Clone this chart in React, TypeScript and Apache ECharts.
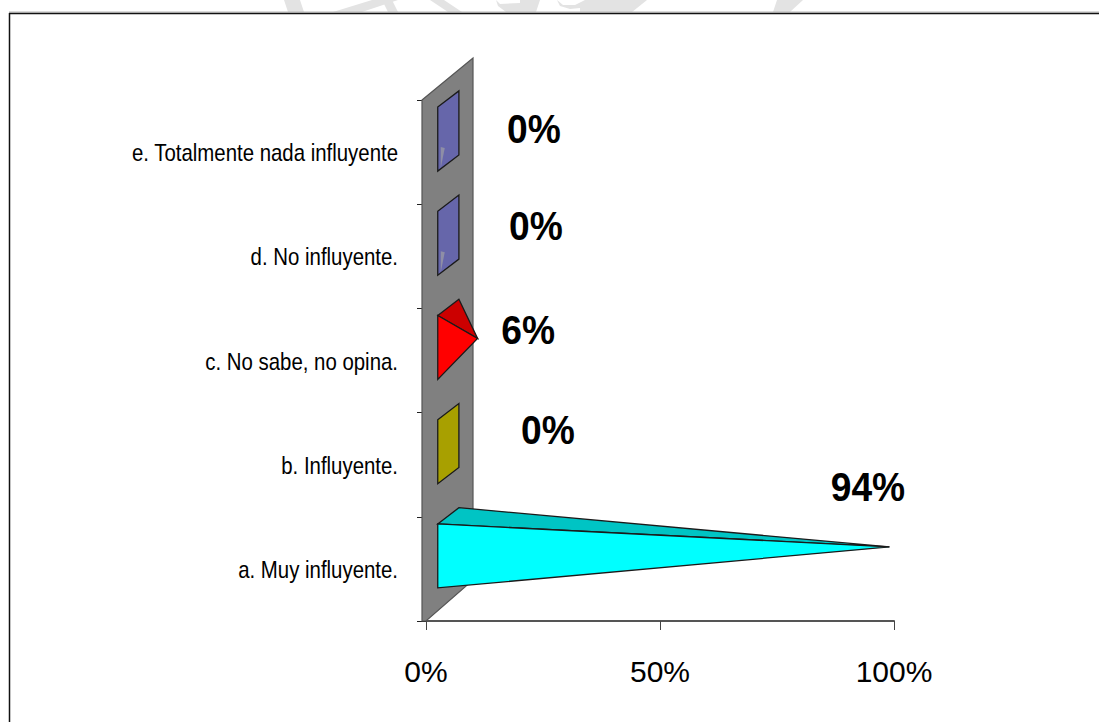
import React, { useEffect, useRef } from "react";
import * as echarts from "echarts";

const categories = [
  "a. Muy influyente.",
  "b. Influyente.",
  "c. No sabe, no opina.",
  "d. No influyente.",
  "e. Totalmente nada influyente",
];
const percentages = [94, 0, 6, 0, 0];
const frontColors = ["#00ffff", "#a8a000", "#ff0000", "#6666aa", "#6666aa"];
const topColors = ["#00c4c4", "#a8a000", "#cc0000", "#6666aa", "#6666aa"];
const apexColors = [null, null, null, "#8e8ea6", "#8e8ea6"];
const valueTicks = [0, 50, 100];

// Where each percentage text sits, relative to the value's point on the axes.
const labelShiftX = [2, 122, 74, 110, 108];
const labelShiftY = [-82, -35, -30, -30, -23];

// Oblique projection of the depth axis, in pixels per unit of depth.
const depthX = 47;
const depthY = -36;
const depthBaseY = -4;
const pyramidHalfHeight = 32;

// Condensed lettering: no narrow face is installed, so the text is squeezed.
const categoryScaleX = 0.85;
const categoryRightEdge = 398;
const valueLabelScaleX = 0.93;

const project = (pt: number[], d: number) => [
  pt[0] + depthX * d,
  pt[1] + depthBaseY + depthY * d,
];

const edge = { stroke: "#1a1a1a", lineWidth: 1.3 };

function renderWall(params: any) {
  const c = params.coordSys;
  const bottom = c.y + c.height;
  return {
    type: "polygon",
    shape: {
      points: [
        [c.x - 4, c.y],
        [c.x + depthX, c.y - 42],
        [c.x + depthX, bottom - 41],
        [c.x, bottom],
        [c.x - 4, bottom],
      ],
    },
    style: { fill: "#808080", stroke: "#555555", lineWidth: 1.2 },
  };
}

function renderPyramid(params: any, api: any) {
  const i = params.dataIndex;
  const value = api.value(0);
  const origin = api.coord([0, i]);
  const end = api.coord([value, i]);
  const frontTop = project([origin[0], origin[1] - pyramidHalfHeight], 0.25);
  const frontBottom = project([origin[0], origin[1] + pyramidHalfHeight], 0.25);
  const backTop = project([origin[0], origin[1] - pyramidHalfHeight], 0.7);
  const backBottom = project([origin[0], origin[1] + pyramidHalfHeight], 0.7);
  const tip = project(end, 0.5);
  const faces: any[] =
    value === 0
      ? [
          {
            type: "polygon",
            shape: { points: [frontTop, backTop, backBottom, frontBottom] },
            style: { fill: frontColors[i], ...edge },
          },
        ]
      : [
          {
            type: "polygon",
            shape: { points: [frontTop, backTop, tip] },
            style: { fill: topColors[i], ...edge },
          },
          {
            type: "polygon",
            shape: { points: [frontTop, tip, frontBottom] },
            style: { fill: frontColors[i], ...edge },
          },
        ];
  const apex = apexColors[i];
  if (apex) {
    const ax = frontTop[0];
    const ay = (frontTop[1] + frontBottom[1]) / 2;
    faces.push({
      type: "polygon",
      shape: { points: [[ax + 3, ay + 8], [ax + 7, ay + 9], [ax + 3, ay + 29]] },
      style: { fill: apex },
    });
  }
  return {
    type: "group",
    children: [
      ...faces,
      {
        type: "text",
        x: end[0] + labelShiftX[i],
        y: end[1] + labelShiftY[i],
        scaleX: valueLabelScaleX,
        style: {
          text: `${value}%`,
          fontFamily: "Liberation Sans",
          fontWeight: "bold",
          fontSize: 40,
          fill: "#000000",
          align: "center",
          verticalAlign: "middle",
        },
      },
      {
        type: "text",
        x: categoryRightEdge,
        y: origin[1] + 1,
        scaleX: categoryScaleX,
        style: {
          text: categories[i],
          fontFamily: "Liberation Sans",
          fontSize: 24,
          fill: "#000000",
          align: "right",
          verticalAlign: "middle",
        },
      },
    ],
  };
}

// Faint shapes running off the top of the page, above the frame.
const topShapes: number[][][] = [
  [[284, 0], [300, 0], [304, 12], [288, 12]],
  [[372, 0], [398, 0], [362, 12], [333, 12]],
  [[382, 0], [392, 0], [398, 12], [388, 12]],
  [[430, 0], [444, 0], [462, 12], [448, 12]],
  [[496, 0], [500, 4], [520, 3], [520, 12], [506, 12], [498, 6]],
  [[520, 0], [540, 0], [536, 12], [520, 12]],
  [[557, 0], [563, 5], [575, 5], [585, 0], [647, 0], [632, 12], [580, 12], [580, 8], [570, 9], [560, 6]],
  [[777, 0], [803, 0], [790, 12], [773, 12]],
];

export default function App() {
  const ref = useRef<HTMLDivElement>(null);
  useEffect(() => {
    document.body.style.margin = "0";
    const chart = echarts.init(ref.current!, undefined, { renderer: "svg" });
    chart.setOption({
      animation: false,
      backgroundColor: "#ffffff",
      grid: { left: 426, top: 100, width: 468, height: 521, containLabel: false },
      xAxis: {
        type: "value",
        min: valueTicks[0],
        max: valueTicks[valueTicks.length - 1],
        interval: valueTicks[1] - valueTicks[0],
        splitLine: { show: false },
        axisLine: { show: true, lineStyle: { color: "#555555", width: 2 } },
        axisTick: { show: true, length: 9, lineStyle: { color: "#444444", width: 1 } },
        axisLabel: {
          formatter: "{value}%",
          margin: 35,
          fontFamily: "Liberation Sans",
          fontSize: 30,
          color: "#000000",
        },
      },
      yAxis: {
        type: "category",
        data: categories,
        axisLine: { show: false },
        axisTick: { show: true, length: 9, lineStyle: { color: "#222222", width: 1 } },
        axisLabel: { show: false },
      },
      graphic: [
        ...topShapes.map((points) => ({
          type: "polygon",
          shape: { points },
          style: { fill: "#e3e3e3" },
          silent: true,
        })),
        {
          type: "line",
          shape: { x1: 9, y1: 12, x2: 1099, y2: 12 },
          style: { stroke: "#b5b5b5", lineWidth: 1 },
        },
        {
          type: "line",
          shape: { x1: 9, y1: 13.5, x2: 1099, y2: 13.5 },
          style: { stroke: "#111111", lineWidth: 1.5 },
        },
        {
          type: "line",
          shape: { x1: 9.5, y1: 13, x2: 9.5, y2: 722 },
          style: { stroke: "#111111", lineWidth: 1.5 },
        },
      ],
      series: [
        {
          type: "custom",
          name: "wall",
          coordinateSystem: "cartesian2d",
          data: [[0, 0]],
          renderItem: renderWall,
          z: 3,
          silent: true,
        },
        {
          type: "custom",
          name: "Porcentaje",
          coordinateSystem: "cartesian2d",
          data: percentages.map((v, i) => [v, i]),
          encode: { x: 0, y: 1 },
          renderItem: renderPyramid,
          z: 4,
        },
      ],
    });
    return () => chart.dispose();
  }, []);
  return <div ref={ref} style={{ width: 1099, height: 722 }} />;
}
